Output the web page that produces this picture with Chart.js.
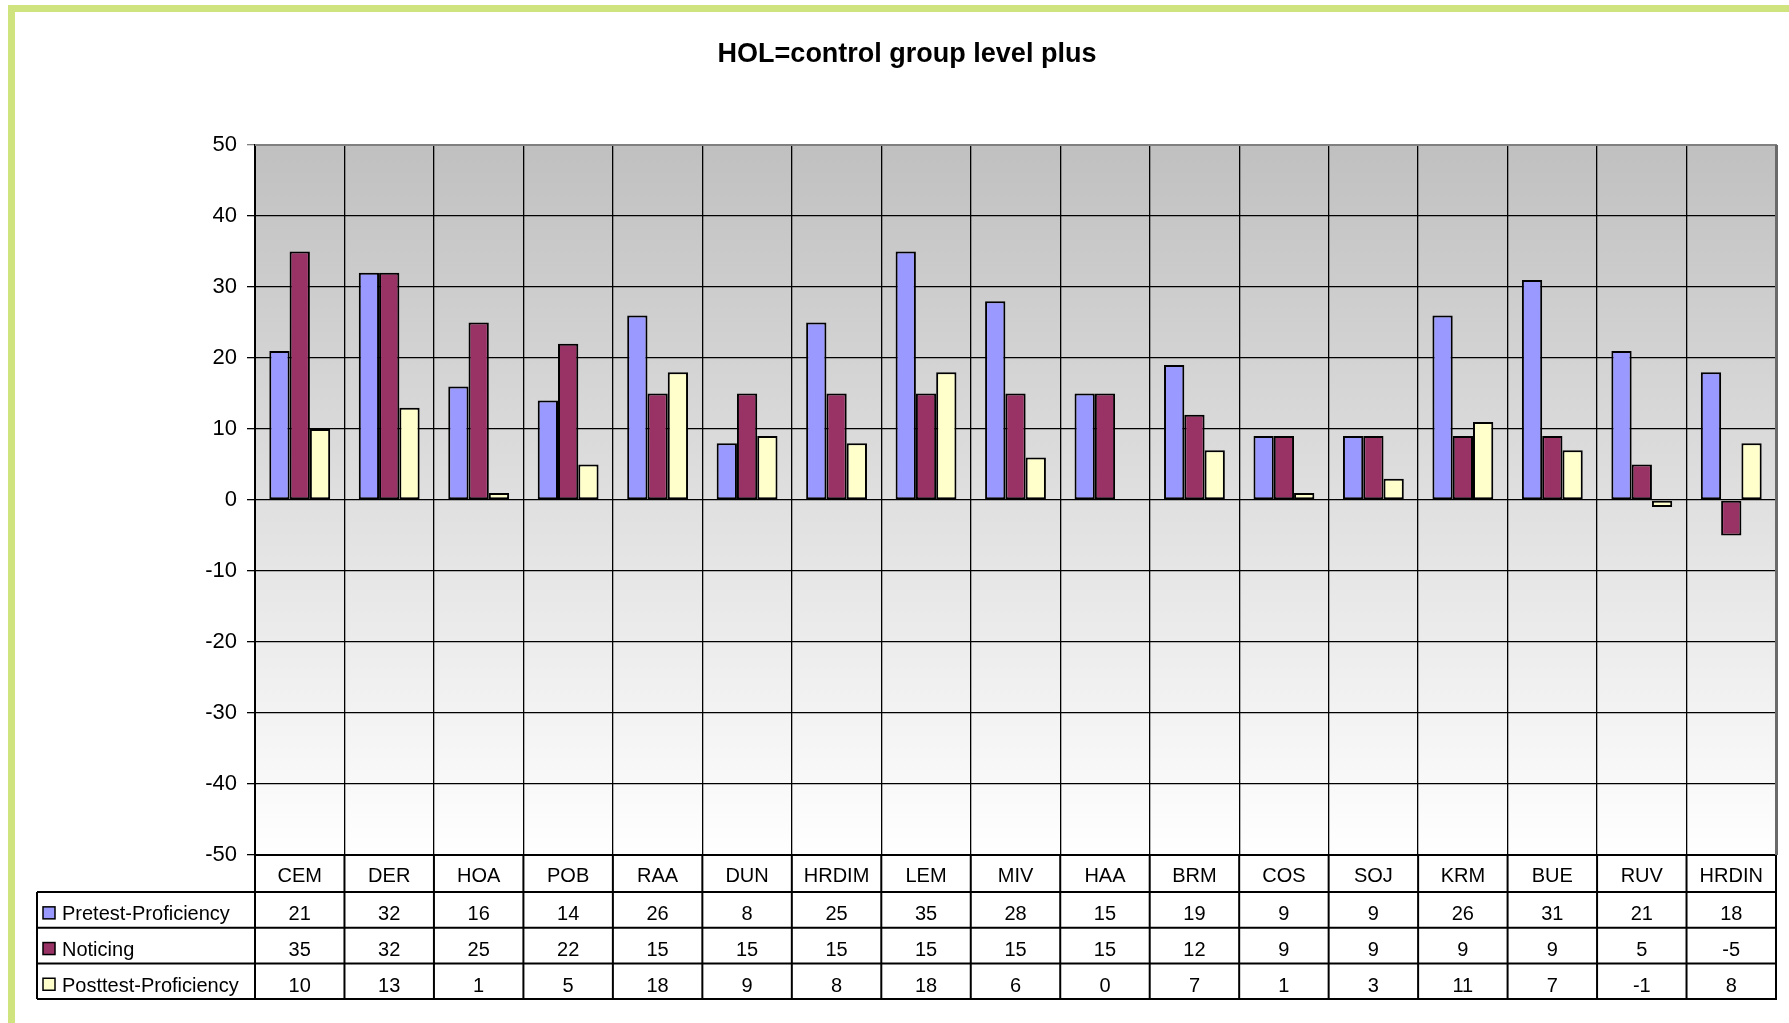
<!DOCTYPE html>
<html>
<head>
<meta charset="utf-8">
<script src="https://cdn.jsdelivr.net/npm/chart.js@4.4.1/dist/chart.umd.min.js"></script>
<style>
  html, body { margin: 0; padding: 0; background: #ffffff; }
  canvas { display: block; }
</style>
</head>
<body>
<canvas id="c" width="1789" height="1023"></canvas>
<script>
const titleText = 'HOL=control group level plus';
const categories = ['CEM','DER','HOA','POB','RAA','DUN','HRDIM','LEM','MIV','HAA','BRM','COS','SOJ','KRM','BUE','RUV','HRDIN'];
const seriesNames = ['Pretest-Proficiency','Noticing','Posttest-Proficiency'];
const pretest  = [21,32,16,14,26, 8,25,35,28,15,19, 9, 9,26,31,21,18];
const noticing = [35,32,25,22,15,15,15,15,15,15,12, 9, 9, 9, 9, 5,-5];
const posttest = [10,13, 1, 5,18, 9, 8,18, 6, 0, 7, 1, 3,11, 7,-1, 8];
const seriesColors = ['#9999ff','#993366','#ffffcc'];
const yMin = -50, yMax = 50, yStep = 10;

const FONT = "'Liberation Sans', Arial, sans-serif";

const tablePlugin = {
  id: 'excelTable',
  beforeDraw(chart) {
    const ctx = chart.ctx;
    const a = chart.chartArea;
    ctx.save();
    ctx.fillStyle = '#cfe47e';
    ctx.fillRect(8, 5, chart.width - 8, 7);
    ctx.fillRect(8, 5, 7, chart.height - 5);
    const g = ctx.createLinearGradient(0, a.top, 0, a.bottom);
    g.addColorStop(0, '#c0c0c0');
    g.addColorStop(1, '#ffffff');
    ctx.fillStyle = g;
    ctx.fillRect(a.left, a.top, a.right - a.left, a.bottom - a.top);
    ctx.restore();
  },
  afterDraw(chart) {
    const ctx = chart.ctx;
    const a = chart.chartArea;
    const n = categories.length;
    const w = (a.right - a.left) / n;
    const catRowH = 37;
    const rowH = 35.7;
    const tableLeft = 37;
    const rowTops = [a.bottom + catRowH];
    for (let r = 1; r <= chart.data.datasets.length; r++) rowTops.push(a.bottom + catRowH + r * rowH);
    ctx.save();
    ctx.strokeStyle = '#808080';
    ctx.lineWidth = 2;
    ctx.beginPath();
    ctx.moveTo(a.left, a.top);
    ctx.lineTo(a.right + 1, a.top);
    ctx.stroke();
    ctx.strokeStyle = '#6a6a6a';
    ctx.lineWidth = 3;
    ctx.beginPath();
    ctx.moveTo(a.right + 0.5, a.top);
    ctx.lineTo(a.right + 0.5, a.bottom);
    ctx.stroke();

    ctx.strokeStyle = '#000';
    ctx.lineWidth = 2;
    ctx.beginPath();
    rowTops.forEach(y => { ctx.moveTo(tableLeft, y); ctx.lineTo(a.right + 1, y); });
    ctx.moveTo(tableLeft, rowTops[0]);
    ctx.lineTo(tableLeft, rowTops[rowTops.length - 1]);
    for (let i = 0; i <= n; i++) {
      const x = a.left + i * w;
      ctx.moveTo(x, a.bottom);
      ctx.lineTo(x, rowTops[rowTops.length - 1]);
    }
    ctx.stroke();

    ctx.font = '20px ' + FONT;
    ctx.fillStyle = '#000';
    ctx.textBaseline = 'middle';
    const xs = chart.scales.x;
    chart.data.datasets.forEach((ds, r) => {
      const cy = rowTops[r] + rowH / 2 + 5;
      ctx.fillStyle = ds.backgroundColor;
      ctx.fillRect(43, cy - 8, 12, 12);
      ctx.strokeStyle = '#000';
      ctx.lineWidth = 1.5;
      ctx.strokeRect(43, cy - 8, 12, 12);
      ctx.fillStyle = '#000';
      ctx.textAlign = 'left';
      ctx.fillText(ds.label, 62, cy);
      ctx.textAlign = 'center';
      ds.data.forEach((v, i) => {
        ctx.fillText(String(v), xs.getPixelForValue(i), cy);
      });
    });
    ctx.restore();
  }
};

new Chart(document.getElementById('c'), {
  type: 'bar',
  data: {
    labels: categories,
    datasets: [
      { label: seriesNames[0], data: pretest,  backgroundColor: seriesColors[0] },
      { label: seriesNames[1], data: noticing, backgroundColor: seriesColors[1] },
      { label: seriesNames[2], data: posttest, backgroundColor: seriesColors[2] }
    ].map(d => Object.assign(d, { borderColor: '#000', borderWidth: 2, borderSkipped: false,
                                  categoryPercentage: 0.68, barPercentage: 1.0 }))
  },
  options: {
    responsive: false,
    devicePixelRatio: 1,
    animation: false,
    layout: { padding: { left: 38, right: 13, top: 0, bottom: 0 }, autoPadding: false },
    plugins: {
      legend: { display: false },
      tooltip: { enabled: false },
      title: {
        display: true,
        text: titleText,
        color: '#000',
        font: { family: FONT, size: 27, weight: 'bold' },
        padding: { top: 38, bottom: 74.6 }
      }
    },
    scales: {
      x: {
        offset: true,
        grid: {
          offset: true,
          drawTicks: false,
          color: (c) => (c.index === categories.length ? 'rgba(0,0,0,0)' : '#000'),
          lineWidth: 1.3
        },
        border: { color: '#000', width: 2 },
        ticks: { color: '#000', font: { family: FONT, size: 20 }, padding: 9, maxRotation: 0, autoSkip: false },
        afterFit(s) { s.height = 1023 - 855; }
      },
      y: {
        min: yMin, max: yMax,
        grid: {
          color: (c) => (c.tick && c.tick.value === yMax ? '#808080' : '#000'),
          lineWidth: 1.3,
          tickLength: 8,
          drawTicks: true
        },
        border: { color: '#000', width: 2 },
        ticks: { stepSize: yStep, color: '#000', font: { family: FONT, size: 22 }, padding: 10 },
        afterFit(s) { s.width = 255 - 38; }
      }
    }
  },
  plugins: [tablePlugin]
});
</script>
</body>
</html>
